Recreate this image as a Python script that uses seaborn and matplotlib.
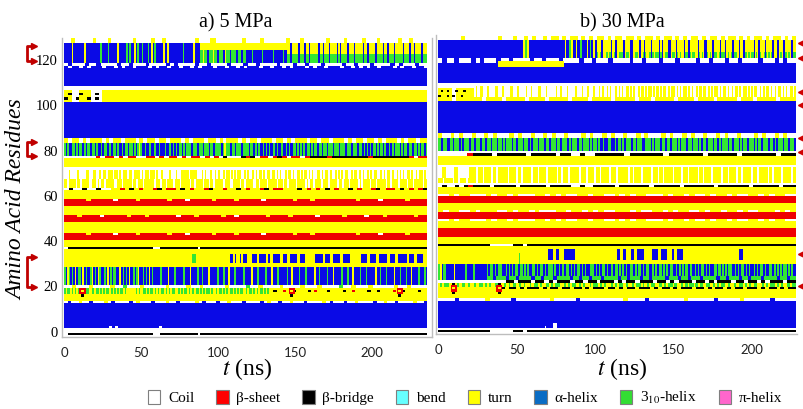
import numpy as np
import pandas as pd
import matplotlib
matplotlib.use("Agg")
import matplotlib.pyplot as plt
import seaborn as sns
from matplotlib.colors import ListedColormap
from matplotlib.patches import Patch
import matplotlib.transforms as mtransforms

# ---------------- data ----------------
STATE_CODES = ["C", "E", "B", "S", "T", "H", "G", "I"]
STATE_NAMES = ["Coil", "β-sheet", "β-bridge", "bend", "turn", "α-helix", "3$_{10}$-helix", "π-helix"]
MAP_COLORS = ["#FFFFFF", "#EE0000", "#000000", "#66FFFF", "#FFFF00", "#0A0AE6", "#33E633", "#FF66CC"]
LEGEND_COLORS = ["#FFFFFF", "#FF0000", "#000000", "#66FFFF", "#FFFF00", "#0A6CC4", "#33DD33", "#FF66CC"]

PANEL_TITLES = ["a) 5 MPa", "b) 30 MPa"]
T_END = [236, 228]            # simulated time (ns)
Y_TICKS = [0, 20, 40, 60, 80, 100, 120]
X_TICKS = [0, 50, 100, 150, 200]
R_TOP, R_BOT = 129, -2        # residue rows shown

# layers: (res_lo, res_hi, t_start, t_end, pattern); pattern spread evenly over time; '.' keeps underlying state
A_EDGE13 = "CHCCTCCHCCCTCHCCCCHCTCCCHCCCTCCHCCCCTCHCCCHCCTCCCHCCCCHCTCCHCCTCCCHCCCCTCHCCCHCCTCCCCHCCTCCHCCCCTCCH"
A_310_EARLY = ("GTGGTGTGTGGTGTGGTTGTGGTGTGTGGTGTGTGTGGTGTTTTTTGTGTGGTGTGGTGTGTGG"
               "TGTGTGGTTGTGTGGTGTGTGGTGTGTGGTGTTGTGGTGTGTGGTGTGTGGTGTGGTGTGTGGTGTGT")
A_DOTS_LATE = "TBTTETTBTTTTBTETTTBTTTTBTTETTTTBTTBTTTTETTBTTTTBTT"
A_GAP20 = "CCTCCCTCCCCTCCGCCCTCCCCCTCCCCTCCTCCCCCTCCCCGCCTCCCCTCCCCTCCCTCCCCGCCTCCCTCCCCCTCCTCCCC"
A_HELIX21 = ("G.TG.G.T.GG.T.G..GT.G.TG..G.T.G.GG..T.G.G.T..G.GT..G.G.T.G."
             "...G....T...G.....G...T....G..G...T.....G...G..T...G.....G.."
             "..T...G....G...T...G.....G..T....G...G.....T..G....G...T...."
             "G...G..T....G...G.....T..G...G....T...G...G..T....G...G.")
A_RED_TOP1 = ".....T.....C....T......T...C.....T....T.....C......T...T.........T....C.....T...."
A_RED_TOP2 = "...T....C.....T...T......C...T.....T..C......T....T.....C.....T....C...T......T.."
A_DOTS63 = "CBCCBCCBCCTTETBTETTEBTEETBTETTEBTTETTBTETTEBTEETTTBTETETBTETTBTETTEBTEETBTETEB"
A_STREAK64 = ("TTCTTTTCTTCTTTTTCTTTCTCTTCTTTTTCCTTTCTTTTTCTTCTTTCTTTTTTCTTTCTTCTTTTCTTTCTTTTTCTTCTTTT"
              "CTTTCTTCTTTTTCTTTCCTTTTCTTCTTTTTCTTCTTTTCTTTTTCTTTCTTCTTTTCTTTTTCTCTTCTTTTCTTTCTTTTTCTT"
              "CTTTCTTTTTCTCTTTTCTTTCTTTTTCTTCTTTTCTTTTCTTTCTTTTTCTT")
A_STREAK68 = ("CCCTCCCCTCCCCCTCCCTTCCTCTTCTTTCTTCTCTTTCTTCTTTTCTCTTCTTTCTCCTCCCCTCCCTCCTTTTTCTTTTCCC"
              "TCTCCTCCTCTCCTCTTCTCTCTTCCTCTCCTCTCTTCTCTTCTTCTCTCCTCTTCTCCTCTCTTCTCTCCTTCTCTTCTCCTCTC"
              "TCTTCCTCTTCTCTCCTCTCTTCCTCTCTTCTCCTCTCTCTTCTCCTCTTCTC")
A_DOTS77 = "CCCCCCCECEECECEECCEECECEECECEECECECBCCCBEBCEECEBECEECEBBBBEBBBBBBBBEBBBBBBBBECEE"
A_310_78 = ("GHGHHGGHGHGGHGHGGHGGHGHHGHGGHGHGGHGHHGHGGHGGHGHGTGHHGHHGHHGHHGHHHGHHGHGHGHGGHGHG"
            "GGHGGGHGGHGGGHGGHGGGGHGTGGGHGGHGGGHGGGGHGGHGHGHHGHGHGHHGHGHHGHHGHGHGGHGHGHGHGGHGHGGH"
            "GGHGGHGGGHGGGHGGGHGGGHGGGHGGHGHGHGHGGHGHGHGHHGHGHGGGHGHGGHGGHGGHGHGGHG")
A_STREAK84 = "TCTTCTCTTTCTCTTCTTTCTCTTCTTCTTTCTCTTTCTTCTCTTTCTCTTCTTTCTTCTCTTTCTTCTTCTTTCTCTTCTTCTCTTTCTCTTCTT"
A_EARLY102 = "TTCCTTTCCC"
A_BDOTS103 = "B..B..B.B."
A_BDOTS105 = ".B..B...B."
A_WHITE117 = ".C..C.C...C..C.C..C...C.C..C..C..C.C...C..C..C.C...C..C..C.C...C.C..C...C..C.C.C..C...C.C..C..C"
A_ROW118 = "CHCCCHCCHCCCCHCCHCCCHCCCCHCHCCCCHCCHCCCCHCCCHCCHCCCCHCCCHCCHCCCHCCCCHCCHCCCHCCCCHCHCCCHCC"
A_TOP_EARLY = ".....T.......T.........G....G.....T.....G.G..T.G..G...G.T.G.....T.T.........G......T..."
A_TOP_MID = "GGTGGHGGTGGHGGGHTGGHGGGHGGHGGHHHHGHHHHHGHHHHHHGHHHHHGHH"
A_TOP_LATE = "..H....H...H..H.....H..H...H....H.H....H...H.....H..H....H....H..H...H.....H...H..H....H..."
A_TOP128 = "CCTCCCCCTCCCTCCCCCCTCCCCTCCTCCCCCCCCTCCCTTCCCCCCCTCCCCTCCCCCCTCCCTCCCCCCTCCCCTCCCCTCCCTCCCCCTCCTCCCC"

A_LOW = [
    (-1, -1, 2.6, 58, "B"), (-1, -1, 62.6, 87, "B"), (-1, -1, 88.5, 236, "B"),
    (2, 12, 0, 236, "H"), (2, 2, 29, 31, "C"), (2, 2, 33, 35, "C"), (2, 2, 62, 63.5, "C"),
    (13, 13, 0, 236, A_EDGE13),
    (14, 19, 0, 236, "T"),
    (17, 19, 0, 134, A_310_EARLY), (18, 18, 134, 236, A_DOTS_LATE),
    (17, 19, 10, 14, "E"), (18, 18, 11, 13, "T"), (16, 16, 11, 13, "B"), (20, 20, 11, 13, "B"),
    (17, 19, 146, 150, "E"), (18, 18, 147, 149, "T"), (16, 16, 147, 149, "B"), (20, 20, 147, 149, "B"),
    (17, 19, 216, 220, "E"), (18, 18, 217, 219, "T"), (16, 16, 217, 219, "B"), (20, 20, 217, 219, "B"),
    (20, 20, 0, 236, A_GAP20),
    (21, 28, 0, 236, "H"), (21, 28, 0, 236, A_HELIX21),
    (29, 36, 0, 236, "T"),
    (31, 34, 83, 86, "G"), (31, 34, 108, 112, "HHTH"), (31, 34, 114, 119, "HTHH"),
    (31, 34, 122, 140, "HHTHHHTHTHHH"), (31, 34, 142, 156.5, "HHTHHHTHH"),
    (31, 34, 163, 186, "HHHTHHTHHHTHHH"), (31, 34, 193, 196.5, "HH"),
    (31, 34, 199, 233, "HHTHHHTHHTHHHTHHTHH"),
]
A_MID = [
    (37, 37, 2.6, 58, "B"), (37, 37, 62.6, 87, "B"), (37, 37, 88.5, 236, "B"),
    (38, 40, 0, 236, "T"),
    (41, 43, 0, 236, "E"), (43, 43, 0, 236, A_RED_TOP1),
    (44, 48, 0, 236, "T"),
    (49, 51, 0, 236, "E"), (51, 51, 0, 236, A_RED_TOP2),
    (52, 55, 0, 236, "T"),
    (56, 58, 0, 236, "E"), (58, 58, 0, 236, A_RED_TOP1),
    (59, 62, 0, 236, "T"),
    (63, 63, 0, 236, A_DOTS63),
    (64, 67, 0, 236, A_STREAK64),
    (68, 71, 0, 236, A_STREAK68),
    (73, 76, 0, 236, "T"),
    (77, 77, 0, 236, A_DOTS77),
]
A_HIGH = [
    (78, 83, 0, 236, A_310_78),
    (84, 85, 0, 236, A_STREAK84),
    (86, 101, 0, 236, "H"),
    (102, 106, 0, 236, "T"), (102, 106, 0, 25, A_EARLY102),
    (103, 103, 0, 25, A_BDOTS103), (105, 105, 0, 25, A_BDOTS105),
    (109, 117, 0, 236, "H"), (117, 117, 0, 236, A_WHITE117),
    (118, 118, 0, 236, A_ROW118),
    (119, 127, 0, 88, "H"), (119, 127, 0, 88, A_TOP_EARLY),
    (119, 127, 88, 145, A_TOP_MID), (125, 127, 88, 145, "T"),
    (123, 127, 145, 236, "T"), (119, 122, 145, 236, "G"),
    (119, 127, 145, 236, A_TOP_LATE),
    (128, 129, 0, 236, A_TOP128),
]

B_EDGE13 = "CCCCHCCCCCCTCCCCCHCCCCCCCCTCCCCCHCCCCCCCCCCTCCCCHCCCCCCCCTCCCCCCHCCCCCTCCCCCCHCCCCC"
B_GREEN19 = ("TGTGGTTGTGTGGTGTTGTGGTGTGTTGGTTGTGTGGTGTGTTGTGGTGTTGTGTGGTTGTGTGGTGTGTTGTGGTGTGTTGTGTGG"
             "TGTTGTGGTGTGTGGTTGTGTGGTGTTGTGTGGTGTGTTGGTGTGTGGTGTTGTGGTGTGTGGTTGTGTGGTGTGTTGTGG")
B_BLACK18 = "B.BB.B.BBB.B.BB.BB.BB.B.BBB.BB.B.BB.BBB.B.BB.B.BBB.BB.B.BB.B.BB.BBB.B.BB.B.BB"
B_BLACK21 = "CBBCBBBCBBCBCBBBCBBCBBCBBBCBCBBCBBBCBBCBCBBBCBBCBCBBBCBBCBBCBCBBBCBB"
B_EARLY22 = "GT.G....T.....G...G......"
B_HELIX22 = ("G.GG.G.GGG..G.G.G.GG.GG.G.G..GG.G.GG.G.GGG.G..G.G.GG.G.G.GG.G.G..GGG.G.G.GG.G..G.GG.G."
             "G.G..GG.G.GG.G.GG..G.G.GG.G.G.GG..G.G.G.GG.G..G.G.GG.G.G..GG.G.G.G.GG..G.G.GG.G.G..G.G.GG.G..GG.G.G.G.GG.G.G..")
B_GREEN22 = "..H...H..H....H..H...H....H..H..H...H....H..H...H..H....H...H..H...H....H..H...H..H...H....H..H.."
B_WLINE1 = "CC.C..CCC.C..C.CCC..C.C.CC..C..CC.C.C..CCC.C..C.CC.C..C.CC..C.C..CC"
B_WLINE2 = ".C..CC.C...CC.C..C.CCC..C..C.C.CC...C.CC..C.C..CC.C..C..C.CC...C.C."
B_DOTS63 = "CBCCBCBEBBBBCBBBBBCBBBBBBCBBBBBCCBCCBBBBBCBBBBBBBCBBBBBBCBBBBBBBCBBBBBBBCBBBBBBCBBB"
B_STREAK65 = ("TTTCTTTTTCTTCTTTTCTTTTTCTTTCTTTTCTTCTTTTTTCTTTTCTTCTTTTTCTTTCTTTTCTTTTTCTTCTTTCTTTTTTC"
              "TTTCTTTTCTTCTTTTTCTTTCTTTTTTCTTCTTTTCTTTTTCTTTCTTCTTTTTCTTTTCTTTCTTTTTCTTCTTTTCTTTTTCTT"
              "TCTTTTCTTCTTTTTCTTTCTTTTTCTTCTTTTCTTTTTCTT")
B_EARLY67 = "CTCCTCCC"
B_DOTS77 = "CCCCCCEBBBBCBBBBBBCBBBBBCBBCCBCCBBBBBBCBBBBBBBCBBBBBBBCBBBBBBCBBBBBBBCBBB"
B_310_79 = ("GGHGGGHGGHGGGHGHGGGHGGHGGGHGGHGGHGGGHGGHGHGGGHGGHGGGHGGHGHGGGHGGGHGGHGGGHGGHGGGHGHGGGH"
            "GGHGGGHGHGGHGHHGHHGGHHGHGGHGHGGGHGGHGGGHHGGGHGHGGGHGGHGGHGGGHGHGGGHGGHGGGHGHGGHGGGHGGHG"
            "HGGGHGGHGGGHGHGGHGGGHGHGGHGGGHGGHGHGGGHGGHGGGH")
B_STREAK85 = "TCCTCTCCTCCTCTCCCTCTCCTCCTCTCCTCCCTCTCCTCTCCTCCTCTCCCTCTCCTCTCCTCCTCTCCTCCCTCTCCTCTCC"
B_STREAK101 = "TTCTTTTCTTTTTCTTTTCTTTTTCTTTTCTTTTTCTTTTTCTTTCTTTTTCTTTTCTTTTCTTTTTCTTTCTTTTTCTTTT"
B_STREAK103 = ("CTCCTCCCTCCCCTCCCTCCCCTCCCTCCCCTCCTCCCCTCCCTCCCCCTCCTCCCTCCCCTCCCTCCTCCCTCCTCTCCTCTCCTCT"
               "CTCCTCTCTCCTCTCTCTTCTCTCTCTTCTCTTCTCTCTTCTCTCCTCTCTTCTCTCTTCTCTTCTCTCTTCTCTTCTCTCTTCTCT"
               "CTTCTCTCTTCTCTCTTCT")
B_EARLY101 = "TTTTCTTTTT"
B_BDOTS103 = "B..B.B..B."
B_BDOTS105 = ".B.B..B..B"
B_ROW118 = "CHCCHCCCHCHCCCHCCHCCCCHCCHCCCHCCCCHCCHCCCHCCCCHCCHCCCHCCCHCCCCHCCHCCCHCCHCCCCHCCCHCHCC"
B_TOP_GAP = "TGT"
B_TOP_MID = "HTHHGHTHHTHHGTHHHTHGHHTH"
B_TOP_LATE_G = ("GTGGTTGTGGTGTTGGTGTGGTTGTGGTGTGGTTGTGTGGTGTTGGTGTGGTGTGTTGGTGTGGTTGTGTGGTGTTGGTGTGGTTG"
                "TGTGGTGTTGGTGTGGTGTGTTGGTGTGGTTGTGTGGTGTTGG")
B_TOP_LATE_H = ("...H.....H..H....H...HH....H..H...H....H.H...HH...H....H..H.....H...HH...H....H..H....H.."
                ".H..H.....H..H...H....H..H...H....H..")
B_TOP128 = "CCCCCCTCCCCCCCCCTCCCTCCTCTCCTCTTCTCTTCTCTCTTCTCTTCTTCTCTTCTCTTCTCTCTTCTCTTCTCTTCTCTCTTCTCTTCTCT"

B_LOW = [
    (-1, -1, 0, 33, "B"), (-1, -1, 48, 54, "B"), (-1, -1, 56.5, 228, "B"),
    (1, 12, 0, 228, "H"), (1, 1, 68, 69, "C"), (1, 2, 73, 76, "C"),
    (13, 13, 0, 228, B_EDGE13),
    (14, 20, 0, 228, "T"),
    (19, 20, 0, 228, B_GREEN19), (18, 18, 40, 228, B_BLACK18),
    (17, 19, 8, 12, "E"), (18, 18, 9, 11, "T"), (16, 16, 9, 11, "B"), (20, 20, 9, 11, "B"),
    (17, 19, 37, 41, "E"), (18, 18, 38, 40, "T"), (16, 16, 38, 40, "B"), (20, 20, 38, 40, "B"),
    (21, 21, 0, 40, "C"), (21, 21, 40, 228, B_BLACK21),
    (22, 28, 0, 228, "H"), (22, 28, 0, 31, B_EARLY22), (22, 28, 31, 228, B_HELIX22),
    (22, 23, 31, 228, "G"), (22, 23, 31, 228, B_GREEN22),
    (29, 36, 0, 228, "T"),
    (29, 33, 51.5, 52.5, "G"),
    (31, 35, 70, 87, "HHTHTTHHHH"), (31, 35, 114, 120, "HTH"), (31, 35, 123, 131, "HTHH"),
    (31, 35, 136, 146, "HHTHH"), (31, 35, 149, 156, "HTHH"), (31, 35, 192, 194, "H"),
]
B_MID = [
    (37, 37, 0, 33, "B"), (37, 37, 48, 54, "B"), (37, 37, 56.5, 228, "B"),
    (38, 40, 0, 228, "T"),
    (41, 44, 0, 228, "E"),
    (45, 48, 0, 228, "T"), (48, 48, 0, 228, B_WLINE1),
    (49, 51, 0, 228, "E"),
    (52, 55, 0, 228, "T"), (52, 52, 0, 228, B_WLINE2),
    (56, 58, 0, 228, "E"),
    (59, 62, 0, 228, "T"), (59, 59, 0, 228, B_WLINE1),
    (63, 63, 0, 228, B_DOTS63),
    (65, 71, 0, 228, B_STREAK65), (67, 71, 0, 20, B_EARLY67),
    (73, 76, 0, 228, "T"),
    (77, 77, 0, 228, B_DOTS77),
]
B_HIGH = [
    (79, 84, 0, 228, B_310_79),
    (85, 86, 0, 228, B_STREAK85),
    (87, 100, 0, 228, "H"),
    (101, 102, 23, 228, B_STREAK101), (103, 107, 23, 228, B_STREAK103),
    (101, 106, 0, 23, B_EARLY101),
    (103, 103, 0, 18, B_BDOTS103), (105, 105, 0, 18, B_BDOTS105),
    (109, 117, 0, 228, "H"),
    (118, 119, 0, 228, B_ROW118),
    (116, 118, 38, 80, "T"),
    (120, 127, 0, 54, "H"), (120, 127, 54, 58, B_TOP_GAP), (120, 127, 58, 80, "H"),
    (120, 127, 80, 101, B_TOP_MID),
    (123, 127, 101, 228, "T"), (120, 122, 101, 228, B_TOP_LATE_G),
    (120, 127, 101, 228, B_TOP_LATE_H),
    (128, 129, 0, 228, B_TOP128),
]

B_ARROW_RES = [126.1, 119.5, 104.8, 99.0, 84.2, 78.3, 33.1, 18.9]
A_BRACKETS = [(126.1, 119.6), (83.9, 77.6), (33.1, 19.9)]

DT = 0.5
CODE = {c: i for i, c in enumerate(STATE_CODES)}


def build_grid(layer_groups, t_end):
    n_cols = int(round(t_end / DT))
    rows = np.arange(R_TOP, R_BOT - 1, -1)
    grid = np.zeros((len(rows), n_cols), dtype=int)
    tc = (np.arange(n_cols) + 0.5) * DT
    for layers in layer_groups:
        for r_lo, r_hi, t0, t1, pat in layers:
            ri = [R_TOP - r for r in range(r_lo, r_hi + 1)]
            cols = np.where((tc >= t0) & (tc < t1))[0]
            idx = np.clip(((tc[cols] - t0) / (t1 - t0) * len(pat)).astype(int), 0, len(pat) - 1)
            for c, k in zip(cols, idx):
                ch = pat[k]
                if ch != ".":
                    grid[ri, c] = CODE[ch]
    return pd.DataFrame(grid, index=rows, columns=np.round(tc, 2))


# ---------------- figure ----------------
plt.rcParams["mathtext.fontset"] = "stix"
SERIF = "Liberation Serif"
W, H = 804, 409
fig = plt.figure(figsize=(W / 100, H / 100), dpi=100)


def fx(px):
    return px / W


def fy(py):
    return 1 - py / H


cmap = ListedColormap(MAP_COLORS)
panels = [
    dict(layers=[A_LOW, A_MID, A_HIGH], box=(62, 432, 38, 337), pxns=1.54, t0px=64),
    dict(layers=[B_LOW, B_MID, B_HIGH], box=(436, 797, 35.3, 334.3), pxns=1.57, t0px=438),
]
axes = []
for i, p in enumerate(panels):
    x0, x1, ytop, ybot = p["box"]
    ax = fig.add_axes([fx(x0), fy(ybot), (x1 - x0) / W, (ybot - ytop) / H])
    df = build_grid(p["layers"], T_END[i])
    sns.heatmap(df, ax=ax, cmap=cmap, vmin=-0.5, vmax=len(STATE_CODES) - 0.5, cbar=False,
                xticklabels=False, yticklabels=False, rasterized=True)
    tl = (x0 - p["t0px"]) / p["pxns"]
    tr = (x1 - p["t0px"]) / p["pxns"]
    ax.set_xlim(tl / DT, tr / DT)
    r_top = 129.67
    r_bot = -2.34
    ax.set_ylim(R_TOP - r_bot + 0.5, R_TOP - r_top + 0.5)
    ax.set_xticks([t / DT for t in X_TICKS])
    ax.set_xticklabels([str(t) for t in X_TICKS], fontfamily="Lato", fontsize=9.5, color="#222222")
    ax.tick_params(axis="x", length=0, pad=7)
    ax.set_yticks([R_TOP - v + 0.5 for v in Y_TICKS])
    if i == 0:
        ax.set_yticklabels([str(v) for v in Y_TICKS], fontfamily=SERIF, fontsize=10.5)
    else:
        ax.set_yticklabels([])
    ax.tick_params(axis="y", length=0, pad=3)
    ax.set_xlabel("")
    ax.set_ylabel("")
    for s in ["left", "bottom", "right"]:
        ax.spines[s].set_visible(True)
        ax.spines[s].set_color("#BDBDBD")
        ax.spines[s].set_linewidth(1.0)
    ax.spines["top"].set_visible(False)
    if i == 1:
        ax.spines["right"].set_visible(False)
    axes.append(ax)

# titles and axis labels
fig.text(fx(236), fy(23), PANEL_TITLES[0], ha="center", va="center", fontfamily=SERIF, fontsize=14.5)
fig.text(fx(622), fy(23), PANEL_TITLES[1], ha="center", va="center", fontfamily=SERIF, fontsize=14.5)
for cx in (247, 622):
    fig.text(fx(cx), fy(369), "$t$ (ns)", ha="center", va="center", fontfamily=SERIF, fontsize=17)
fig.text(fx(17), fy(200), "Amino Acid Residues", rotation=90, ha="center", va="center",
         fontfamily=SERIF, fontstyle="italic", fontsize=17)

# red markers on panel b (right side)
axb = axes[1]
trb = mtransforms.blended_transform_factory(fig.transFigure, axb.transData)
for r in B_ARROW_RES:
    axb.plot([fx(801)], [R_TOP - r + 0.5], marker="<", color="#D00000", markersize=5,
             transform=trb, clip_on=False, linestyle="none")

# red brackets on panel a (left side)
axa = axes[0]
tra = mtransforms.blended_transform_factory(fig.transFigure, axa.transData)
for rt, rb in A_BRACKETS:
    ct, cb = R_TOP - rt + 0.5, R_TOP - rb + 0.5
    axa.plot([fx(34), fx(27), fx(27), fx(34)], [ct, ct, cb, cb], color="#C00000", lw=2,
             transform=tra, clip_on=False)
    for c in (ct, cb):
        axa.plot([fx(34)], [c], marker=">", color="#C00000", markersize=4, transform=tra,
                 clip_on=False, linestyle="none")

# legend
handles = [Patch(facecolor=c, edgecolor="#7F7F7F", linewidth=0.8) for c in LEGEND_COLORS]
fig.legend(handles, STATE_NAMES, loc="center", bbox_to_anchor=(fx(465), fy(398)), ncol=8,
           frameon=False, handlelength=0.8, handleheight=1.1, handletextpad=0.5,
           columnspacing=1.45, prop={"family": SERIF, "size": 11})

fig.savefig("out.png", dpi=100)
